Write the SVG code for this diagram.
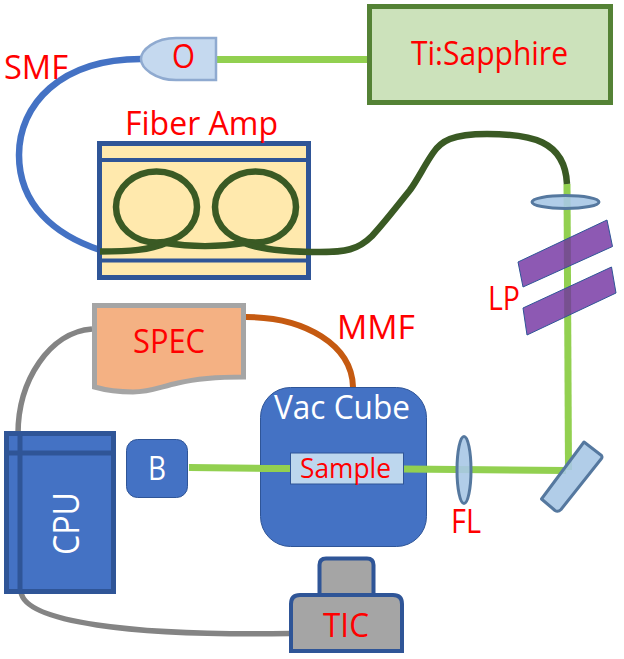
<svg xmlns="http://www.w3.org/2000/svg" width="624" height="659" viewBox="0 0 624 659">
  <style>
    text { font-family: "Open Sans", "Noto Sans", "Liberation Sans", sans-serif; font-size: 32px; }
    .red { fill: #ff0000; }
    .white { fill: #ffffff; }
    .fiber { fill: none; stroke-linecap: butt; }
    .beam { fill: none; stroke: #92d050; stroke-width: 7; }
    .dark { fill: none; stroke: #3a5a24; stroke-width: 6.500; }
    .cable { fill: none; stroke: #848484; stroke-width: 5.500; }
    .lens { fill: #a9c8e6; fill-opacity: .9; stroke: #55789f; stroke-width: 3; }
    .blue { fill: #4472c4; stroke: #2f5597; }
    .filter { fill: #7030a0; fill-opacity: .8; stroke: #2f5597; stroke-width: 1; }
    .navy { fill: none; stroke: #2f5597; }
  </style>

  <g id="connectors">
    <path class="beam" d="M216 59.500H370"/>
    <path class="beam" d="M567 184L568.500 470"/>
    <path class="beam" d="M189 467.500L290 468.500"/>
    <path class="fiber" stroke="#4472c4" stroke-width="6.500" d="M141 59C60 59 19 105 19 155C19 205 55 235 100 250"/>
    <path class="fiber" stroke="#c55a11" stroke-width="6" d="M246 317C305 317 352 345 353 387"/>
    <path class="cable" d="M92 329C50 332 18 380 18 434"/>
    <path class="cable" d="M21 592C25 622 130 636 290 633.500"/>
  </g>

  <g id="ti-sapphire">
    <rect x="369.500" y="6.500" width="241" height="96" fill="#cce2bb" stroke="#548235" stroke-width="5"/>
    <text class="red" x="411" y="65" textLength="157" lengthAdjust="spacingAndGlyphs">Ti:Sapphire</text>
  </g>

  <g id="objective">
    <path d="M216 38H176C155 38 141 50 141 59C141 68 155 80 176 80H216Z" fill="#c5d9ef" stroke="#8faad0" stroke-width="2.500"/>
    <text class="red" x="172" y="68" textLength="23" lengthAdjust="spacingAndGlyphs">O</text>
  </g>

  <g id="fiber-amp">
    <rect x="99.500" y="143.500" width="209" height="134" fill="#ffe9ad" stroke="#2f5597" stroke-width="5"/>
    <path class="navy" stroke-width="4" d="M100 160H308M100 260.500H308"/>
    <ellipse class="dark" cx="156.500" cy="207" rx="40.500" ry="35.500"/>
    <ellipse class="dark" cx="255.500" cy="207" rx="40.500" ry="35.500"/>
    <path class="dark" d="M100 251.500C130 251.500 150 250 166 243C190 247 220 247 244 243C262 250 290 252 320 252C345 252 358 250 372 236C385 222 398 205 410 190C418 179 424 166 433 153C441 141 452 134 487 134C530 134 565 140 567 184"/>
    <text class="red" x="125" y="135" textLength="153" lengthAdjust="spacingAndGlyphs">Fiber Amp</text>
  </g>

  <g id="smf-label"><text class="red" x="4" y="79" textLength="64" lengthAdjust="spacingAndGlyphs">SMF</text></g>

  <g id="collimating-lens"><ellipse class="lens" cx="565.500" cy="202" rx="33.500" ry="6.500"/></g>

  <g id="long-pass-filters">
    <polygon class="filter" points="607,220 612.500,246.500 523,287 518,262"/>
    <polygon class="filter" points="611.500,267 616,293 527,335 523,308"/>
    <text class="red" x="488" y="310" textLength="32" lengthAdjust="spacingAndGlyphs">LP</text>
  </g>

  <g id="spectrometer">
    <path d="M94.500 305.500H243.500V377C220 377 195 379 178 383C160 387 150 392 133 392C118 392 105 390 94.500 387Z" fill="#f4b183" stroke="#a5a5a5" stroke-width="5"/>
    <text class="red" x="133" y="353" textLength="72" lengthAdjust="spacingAndGlyphs">SPEC</text>
  </g>
  <g id="mmf-label"><text class="red" x="337" y="339" textLength="78" lengthAdjust="spacingAndGlyphs">MMF</text></g>

  <g id="cpu">
    <rect class="blue" x="6.500" y="433.500" width="107" height="158" stroke-width="5"/>
    <path class="navy" stroke-width="5" d="M7 453H113M20 434V591"/>
    <text class="white" transform="translate(79 555) rotate(-90)" textLength="63" lengthAdjust="spacingAndGlyphs" style="font-size:37px">CPU</text>
  </g>

  <g id="beam-block">
    <rect class="blue" x="126.500" y="439.500" width="61" height="58" rx="11" stroke-width="1"/>
    <text class="white" x="148" y="480" textLength="18" lengthAdjust="spacingAndGlyphs">B</text>
  </g>

  <g id="vac-cube">
    <rect class="blue" x="260.500" y="387.500" width="166" height="159" rx="30" stroke-width="1"/>
    <path class="beam" d="M260 468.500H291"/>
    <rect x="290.500" y="453" width="113" height="31" fill="#bdd7ee" stroke="#2f5597" stroke-width="1"/>
    <text class="white" x="274" y="419" textLength="136" lengthAdjust="spacingAndGlyphs">Vac Cube</text>
    <text class="red" x="300" y="478" textLength="91" lengthAdjust="spacingAndGlyphs" style="font-size:28px">Sample</text>
  </g>

  <g id="focus-beam"><path class="beam" d="M404 469L566 470.500"/></g>

  <g id="focus-lens">
    <ellipse class="lens" cx="464" cy="470" rx="7" ry="33.500"/>
    <text class="red" x="451" y="533" textLength="30" lengthAdjust="spacingAndGlyphs">FL</text>
  </g>

  <g id="mirror">
    <path class="lens" stroke-linejoin="round" d="M584 442L601.500 455.500Q602.500 457 601.500 458.500L561 509.500Q558 512.500 555 510.500L541.500 499Z"/>
  </g>

  <g id="tic">
    <path d="M319.500 594V565Q319.500 558.500 326 558.500H367Q373.500 558.500 373.500 565V594" fill="#a5a5a5" stroke="#2f5597" stroke-width="4"/>
    <path d="M291 651V604Q291 595 300 595H393Q402 595 402 604V651Z" fill="#a5a5a5" stroke="#2f5597" stroke-width="4"/>
    <text class="red" x="323" y="637" textLength="46" lengthAdjust="spacingAndGlyphs">TIC</text>
  </g>
</svg>
